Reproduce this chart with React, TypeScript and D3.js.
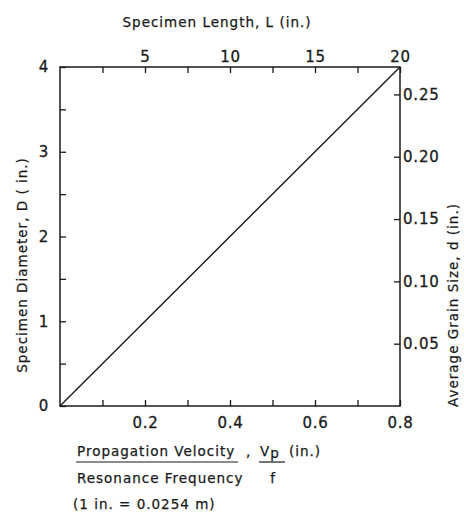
import {useEffect, useRef} from 'react';
import * as d3 from 'd3';

const [W, H] = [464, 512];

// data
const velocityRatio = [0, 0.8];          // Vp / f (in.)
const diameter = [0, 4];                 // D (in.)
const bottomTicks = [0.1, 0.2, 0.3, 0.4, 0.5, 0.6, 0.7, 0.8];
const bottomLabels = [0.2, 0.4, 0.6, 0.8];
const leftTicks = [0, 0.5, 1, 1.5, 2, 2.5, 3, 3.5, 4];
const lengthTicks = [2.5, 5, 7.5, 10, 12.5, 15, 17.5, 20];
const lengthLabels = [5, 10, 15, 20];
const grainTicks = [0.05, 0.1, 0.15, 0.2, 0.25];
const grainMax = 0.272;

const FONT = "'DejaVu Sans', sans-serif";
const INK = '#1a1a1a';

function App() {
    const svgRef = useRef<SVGSVGElement>(null);

    useEffect(() => {
        if (!svgRef.current) return;
        const svg = d3.select(svgRef.current);
        svg.selectAll('*').remove();

        const m = {left: 60, right: 400, top: 67, bottom: 406};
        const x = d3.scaleLinear().domain([0, 0.8]).range([m.left, m.right]);
        const y = d3.scaleLinear().domain([0, 4]).range([m.bottom, m.top]);
        const xL = d3.scaleLinear().domain([0, 20]).range([m.left, m.right]);
        const yd = d3.scaleLinear().domain([0, grainMax]).range([m.bottom, m.top]);

        const style = (g: any) => {
            g.select('.domain').remove();
            g.selectAll('line').attr('stroke', INK).attr('stroke-width', 1.3);
            g.selectAll('text')
                .attr('fill', INK)
                .attr('stroke', INK).attr('stroke-width', 0.3)
                .style('font-family', FONT)
                .style('font-size', '15px')
                .style('letter-spacing', '0.8px');
        };

        // frame
        svg.append('rect')
            .attr('x', m.left).attr('y', m.top)
            .attr('width', m.right - m.left).attr('height', m.bottom - m.top)
            .attr('fill', 'none').attr('stroke', INK).attr('stroke-width', 1.5);

        svg.append('g')
            .attr('transform', `translate(0,${m.bottom})`)
            .call(d3.axisBottom(x).tickValues(bottomTicks).tickSizeInner(-6).tickSizeOuter(0).tickPadding(11)
                .tickFormat(d => bottomLabels.includes(+d) ? d3.format('.1f')(+d) : ''))
            .call(style);

        svg.append('g')
            .attr('transform', `translate(${m.left},0)`)
            .call(d3.axisLeft(y).tickValues(leftTicks).tickSizeInner(-6).tickSizeOuter(0).tickPadding(11)
                .tickFormat(d => Number.isInteger(+d) ? String(d) : ''))
            .call(style);

        svg.append('g')
            .attr('transform', `translate(0,${m.top})`)
            .call(d3.axisTop(xL).tickValues(lengthTicks).tickSizeInner(-6).tickSizeOuter(0).tickPadding(5)
                .tickFormat(d => lengthLabels.includes(+d) ? String(d) : ''))
            .call(style);

        svg.append('g')
            .attr('transform', `translate(${m.right},0)`)
            .call(d3.axisRight(yd).tickValues(grainTicks).tickSizeInner(-6).tickSizeOuter(0).tickPadding(3)
                .tickFormat(d3.format('.2f')))
            .call(style);

        // the relation line
        const line = d3.line<number>().x(d => x(d)).y((d, i) => y(diameter[i]));
        svg.append('path')
            .attr('d', line(velocityRatio))
            .attr('fill', 'none').attr('stroke', INK).attr('stroke-width', 1.4);

        const label = (t: string, px: number, py: number, rot = 0, anchor = 'middle', size = 13.5) =>
            svg.append('text')
                .attr('transform', `translate(${px},${py}) rotate(${rot})`)
                .attr('text-anchor', anchor)
                .attr('fill', INK)
                .attr('stroke', INK).attr('stroke-width', 0.25)
                .style('font-family', FONT)
                .style('font-size', `${size}px`)
                .style('letter-spacing', '1px')
                .text(t);

        label('Specimen Length, L (in.)', 217, 27);
        label('Specimen Diameter, D ( in.)', 27, 265, -90);
        label('Average Grain Size, d (in.)', 458, 305, -90);

        // bottom axis title, written as a fraction
        label('Propagation Velocity', 77, 456, 0, 'start');
        label('Resonance Frequency', 77, 483, 0, 'start');
        label(',', 246, 456, 0, 'start');
        svg.append('line').attr('x1', 76).attr('x2', 238).attr('y1', 462).attr('y2', 462)
            .attr('stroke', INK).attr('stroke-width', 1.2);

        const vp = label('V', 260, 456, 0, 'start');
        vp.append('tspan').attr('dy', 2).text('p');
        label('(in.)', 289, 456, 0, 'start');
        svg.append('line').attr('x1', 259).attr('x2', 285).attr('y1', 462).attr('y2', 462)
            .attr('stroke', INK).attr('stroke-width', 1.2);
        label('f', 273, 483, 0, 'middle');

        label('(1 in. = 0.0254 m)', 73, 509, 0, 'start', 13.5);
    }, []);

    return (
        <svg ref={svgRef} width={W} height={H}
             style={{position: 'absolute', left: 0, top: 0, background: '#fff'}} />
    );
}

export default App;
